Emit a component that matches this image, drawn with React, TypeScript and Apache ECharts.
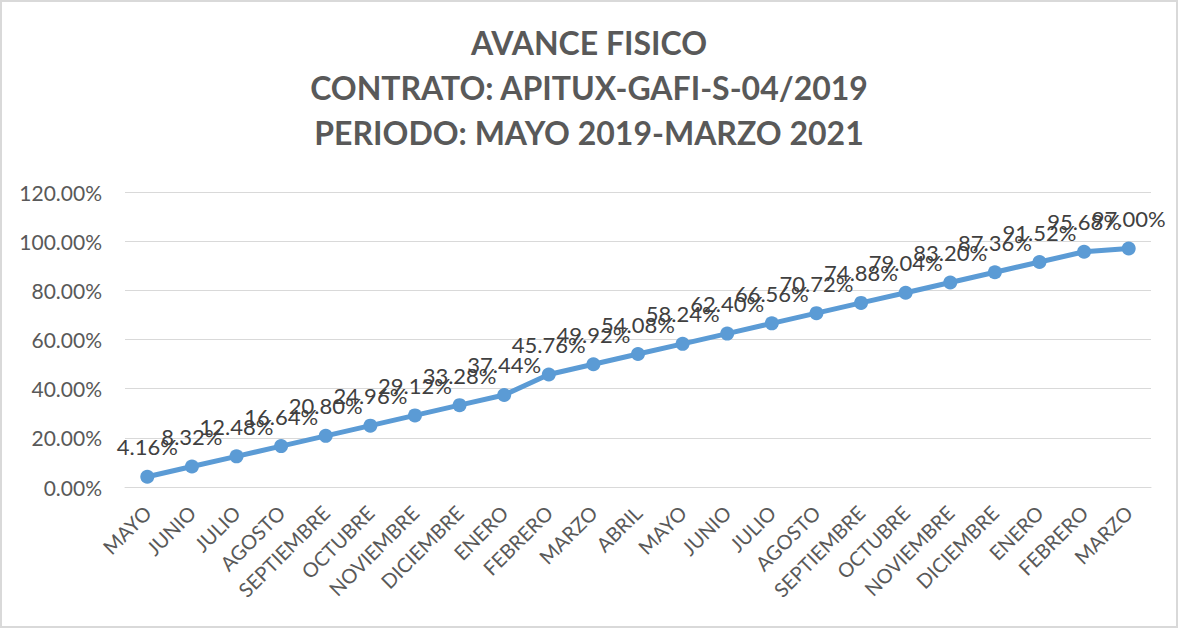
import React, { useEffect, useRef } from "react";
import * as echarts from "echarts";

const titleLines = [
  "AVANCE FISICO",
  "CONTRATO: APITUX-GAFI-S-04/2019",
  "PERIODO: MAYO 2019-MARZO 2021",
];

const months = [
  "MAYO", "JUNIO", "JULIO", "AGOSTO", "SEPTIEMBRE", "OCTUBRE", "NOVIEMBRE", "DICIEMBRE",
  "ENERO", "FEBRERO", "MARZO", "ABRIL", "MAYO", "JUNIO", "JULIO", "AGOSTO",
  "SEPTIEMBRE", "OCTUBRE", "NOVIEMBRE", "DICIEMBRE", "ENERO", "FEBRERO", "MARZO",
];

const avance = [
  4.16, 8.32, 12.48, 16.64, 20.8, 24.96, 29.12, 33.28, 37.44, 45.76, 49.92, 54.08,
  58.24, 62.4, 66.56, 70.72, 74.88, 79.04, 83.2, 87.36, 91.52, 95.68, 97.0,
];

const FONT = "Lato";

export default function App() {
  const ref = useRef<HTMLDivElement>(null);
  useEffect(() => {
    if (!ref.current) return;
    const chart = echarts.init(ref.current, undefined, { renderer: "svg" });
    chart.setOption({
      animation: false,
      backgroundColor: "#ffffff",
      title: {
        text: titleLines.join("\n"),
        left: "center",
        top: 13,
        textStyle: {
          fontFamily: FONT,
          fontWeight: "bold",
          fontSize: 32,
          lineHeight: 45,
          color: "#595959",
        },
      },
      grid: { left: 123, right: 25, top: 190, bottom: 139 },
      xAxis: {
        type: "category",
        data: months,
        axisLine: { show: true, lineStyle: { color: "#d9d9d9", width: 1 } },
        axisTick: { show: false },
        axisLabel: {
          interval: 0,
          rotate: 45,
          margin: 22,
          fontFamily: FONT,
          fontSize: 20,
          color: "#595959",
        },
      },
      yAxis: {
        type: "value",
        min: 0,
        max: 120,
        interval: 20,
        axisLine: { show: false },
        axisTick: { show: false },
        splitLine: { lineStyle: { color: "#d9d9d9", width: 1 } },
        axisLabel: {
          margin: 23,
          fontFamily: FONT,
          fontSize: 21,
          color: "#595959",
          formatter: (v: number) => v.toFixed(2) + "%",
        },
      },
      series: [
        {
          type: "line",
          data: avance,
          lineStyle: { color: "#5b9bd5", width: 5 },
          itemStyle: { color: "#5b9bd5" },
          symbol: "circle",
          symbolSize: 14,
          label: {
            show: true,
            position: "top",
            distance: 12,
            fontFamily: FONT,
            fontSize: 22,
            color: "#404040",
            formatter: (p: any) => p.value.toFixed(2) + "%",
          },
        },
      ],
    });
    return () => chart.dispose();
  }, []);
  return (
    <div
      style={{
        position: "fixed",
        left: 0,
        top: 0,
        width: 1178,
        height: 628,
        boxSizing: "border-box",
        border: "2px solid #d9d9d9",
        background: "#fff",
      }}
    >
      <div ref={ref} style={{ width: 1174, height: 624 }} />
    </div>
  );
}
